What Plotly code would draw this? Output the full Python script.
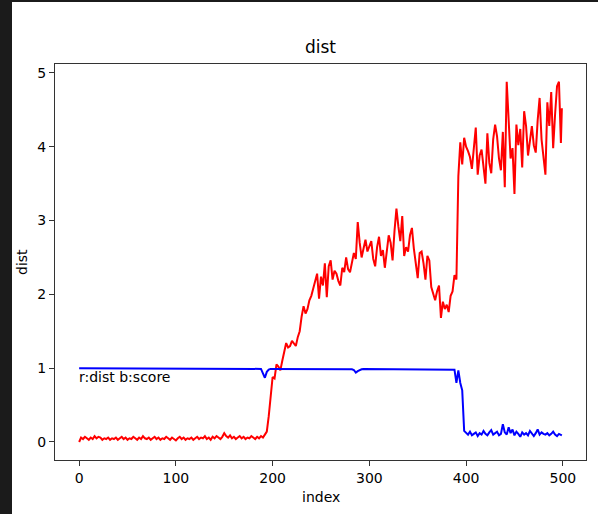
import plotly.graph_objects as go

# sample index (every second step, plus the last sample)
index = list(range(0, 500, 2)) + [499]

# red trace: dist
dist_low = [
    0.00, 0.06, 0.04, 0.07, 0.05, 0.03, 0.06, 0.04, 0.08, 0.05,
    0.07, 0.06, 0.03, 0.05, 0.04, 0.06, 0.03, 0.05, 0.04, 0.06,
    0.03, 0.05, 0.07, 0.04, 0.06, 0.03, 0.05, 0.04, 0.07, 0.05,
    0.03, 0.06, 0.04, 0.08, 0.05, 0.04, 0.06, 0.03, 0.05, 0.07,
    0.04, 0.06, 0.03, 0.05, 0.04, 0.07, 0.05, 0.03, 0.06, 0.04,
    0.02, 0.05, 0.07, 0.04, 0.06, 0.03, 0.05, 0.04, 0.06, 0.03,
    0.05, 0.07, 0.04, 0.06, 0.05, 0.08, 0.04, 0.06, 0.03, 0.07,
    0.05, 0.08, 0.06, 0.04, 0.07, 0.12, 0.08, 0.06, 0.09, 0.05,
    0.07, 0.04, 0.06, 0.08, 0.05, 0.07, 0.04, 0.06, 0.05, 0.08,
    0.06, 0.04, 0.07, 0.05, 0.08, 0.06, 0.10, 0.14, 0.35, 0.65,
]
dist_mid = [
    0.88, 0.86, 1.05, 1.02, 0.97, 1.10, 1.22, 1.34, 1.28, 1.30,
    1.37, 1.33, 1.30, 1.42, 1.50, 1.70, 1.84, 1.74, 1.80, 1.92,
    1.98, 2.08, 2.20, 2.28, 1.94, 2.24, 2.12, 2.42, 1.96, 2.38,
    2.46, 2.20, 2.32, 2.28, 2.18, 2.12, 2.36, 2.30, 2.50, 2.34,
    2.30, 2.44, 2.56, 2.48, 2.98, 2.70, 2.50, 2.62, 2.74, 2.58,
    2.66, 2.72, 2.48, 2.38, 2.64, 2.78, 2.52, 2.60, 2.36, 2.62,
    2.80, 2.70, 2.46, 2.86, 3.16, 2.92, 2.72, 3.06, 2.52, 2.64,
    2.58, 2.80, 2.90, 2.62, 2.40, 2.22, 2.56, 2.58, 2.42, 2.20,
    2.52, 2.46, 2.10, 2.00, 1.92, 2.04, 2.12, 1.68, 1.90, 1.80,
    1.86, 1.76, 1.98, 2.04, 2.26, 2.20,
]
dist_high = [
    3.60, 4.06, 3.76, 4.12, 4.00, 3.94, 3.86, 3.70, 4.02, 4.26,
    3.62, 3.88, 3.96, 3.70, 3.50, 4.18, 3.78, 3.64, 4.10, 4.30,
    4.14, 3.84, 3.68, 4.20, 3.45, 4.88, 4.36, 3.84, 3.98, 3.36,
    4.30, 4.02, 4.24, 3.72, 4.48, 4.28, 3.88, 4.10, 4.28, 4.02,
    3.92, 4.36, 4.66, 4.10, 3.84, 3.62, 4.60, 4.28, 4.74, 3.98,
    4.44, 4.82, 4.88, 4.05, 4.52,
]

# blue trace: score
score_high = [1.00] * 94 + [0.99, 0.93, 0.87, 0.95, 0.98, 0.99]
score_mid = [
    0.99, 0.99, 0.98, 0.99, 0.99, 0.985, 0.99, 0.99, 0.985, 0.99,
    0.99, 0.99, 0.985, 0.99, 0.99, 0.99, 0.99, 0.985, 0.99, 0.99,
    0.99, 0.985, 0.99, 0.99, 0.99, 0.99, 0.985, 0.99, 0.99, 0.99,
    0.99, 0.99, 0.99, 0.985, 0.99, 0.99, 0.99, 0.99, 0.99, 0.99,
    0.99, 0.985, 0.975, 0.94, 0.96, 0.975, 0.985, 0.99, 0.99, 0.99,
    0.99, 0.99, 0.99, 0.99, 0.99, 0.99, 0.99, 0.99, 0.99, 0.99,
    0.99, 0.99, 0.99, 0.99, 0.99, 0.99, 0.99, 0.99, 0.99, 0.99,
    0.99, 0.99, 0.99, 0.99, 0.99, 0.99, 0.99, 0.99, 0.99, 0.99,
    0.99, 0.99, 0.99, 0.99, 0.99, 0.99, 0.99, 0.99, 0.99, 0.99,
    0.99, 0.99, 0.985, 0.98, 0.98, 0.80, 0.97, 0.80, 0.70, 0.15,
]
score_low = [
    0.12, 0.10, 0.14, 0.09, 0.11, 0.13, 0.08, 0.12, 0.10, 0.15,
    0.11, 0.09, 0.13, 0.16, 0.10, 0.12, 0.14, 0.09, 0.11, 0.24,
    0.13, 0.10, 0.20, 0.12, 0.17, 0.09, 0.14, 0.11, 0.07, 0.13,
    0.10, 0.12, 0.09, 0.15, 0.11, 0.08, 0.12, 0.17, 0.10, 0.13,
    0.11, 0.10, 0.12, 0.09, 0.11, 0.14, 0.10, 0.08, 0.11, 0.10,
    0.09,
]

dist = dist_low + dist_mid + dist_high
score = score_high + score_mid + score_low

x_ticks = [0, 100, 200, 300, 400, 500]
y_ticks = [0, 1, 2, 3, 4, 5]

FONT = "DejaVu Sans"
W, H = 598, 514
L, R, T, B = 55, 12, 64, 54
PW, PH = W - L - R, H - T - B

fig = go.Figure()
fig.add_trace(go.Scatter(x=index, y=dist, mode="lines",
                         line=dict(color="red", width=2), hoverinfo="skip"))
fig.add_trace(go.Scatter(x=index, y=score, mode="lines",
                         line=dict(color="blue", width=2), hoverinfo="skip"))

axis_common = dict(
    showline=True, linecolor="#333333", linewidth=1, mirror=True,
    ticks="outside", ticklen=5, tickwidth=1, tickcolor="#333333",
    showgrid=False, zeroline=False,
    tickfont=dict(family=FONT, size=14, color="black"),
)
fig.update_xaxes(range=[-24.95, 523.95], tickvals=x_ticks, **axis_common)
fig.update_yaxes(range=[-0.244, 5.12], tickvals=y_ticks, **axis_common)


def px_x(p):
    return (p - L) / PW


def px_y(p):
    return (H - B - p) / PH


# dark window frame on the left and top edges
frame = "#1b1b1b"
fig.add_shape(type="rect", xref="paper", yref="paper",
              x0=px_x(0), x1=px_x(12), y0=px_y(H), y1=px_y(0),
              fillcolor=frame, line=dict(width=0), layer="above")
fig.add_shape(type="rect", xref="paper", yref="paper",
              x0=px_x(0), x1=px_x(W), y0=px_y(2), y1=px_y(0),
              fillcolor=frame, line=dict(width=0), layer="above")

fig.add_annotation(text="dist", xref="paper", yref="paper", x=0.5, y=px_y(47),
                   xanchor="center", yanchor="middle", showarrow=False,
                   font=dict(family=FONT, size=17, color="black"))
fig.add_annotation(text="index", xref="paper", yref="paper", x=0.5, y=px_y(497),
                   xanchor="center", yanchor="middle", showarrow=False,
                   font=dict(family=FONT, size=14, color="black"))
fig.add_annotation(text="dist", xref="paper", yref="paper", x=px_x(22), y=0.5,
                   xanchor="center", yanchor="middle", showarrow=False, textangle=-90,
                   font=dict(family=FONT, size=14, color="black"))
fig.add_annotation(text="r:dist b:score", xref="x", yref="y", x=0, y=0.8,
                   xanchor="left", yanchor="bottom", yshift=-4, xshift=-2,
                   showarrow=False,
                   font=dict(family=FONT, size=14, color="black"))

fig.update_layout(
    width=W, height=H,
    margin=dict(l=L, r=R, t=T, b=B),
    paper_bgcolor="white", plot_bgcolor="white",
    showlegend=False,
    font=dict(family=FONT),
)

fig.write_html("out.html")
